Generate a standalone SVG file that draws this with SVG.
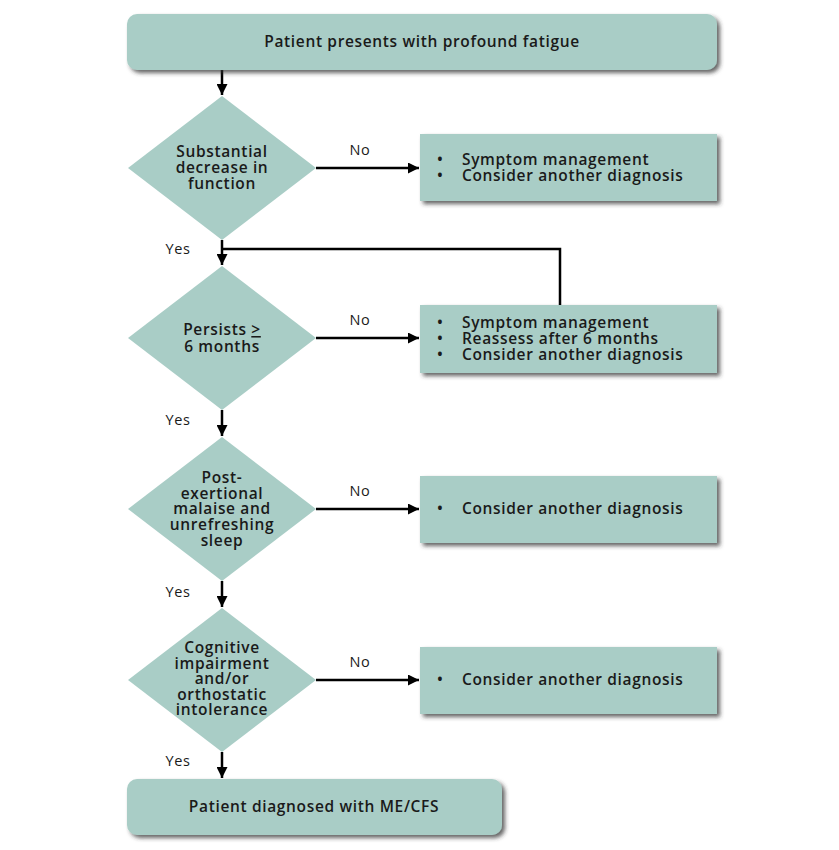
<svg xmlns="http://www.w3.org/2000/svg" width="839" height="850" viewBox="0 0 839 850">
<style>
.box{fill:#a9cdc6;filter:url(#sh)}
.dia{fill:#a9cdc6}
.t{font-family:"Open Sans","Liberation Sans",sans-serif;font-weight:600;font-size:15.5px;letter-spacing:0.65px;fill:#1a1a1a}
.c{text-anchor:middle}
.lbl{font-family:"Open Sans","Liberation Sans",sans-serif;font-size:14.5px;letter-spacing:0.6px;fill:#1a1a1a}
.ln{stroke:#000;stroke-width:2.5;fill:none}
</style>
<defs>
<filter id="sh" x="-5%" y="-20%" width="115%" height="150%">
<feDropShadow dx="3" dy="3" stdDeviation="2" flood-color="#333" flood-opacity="0.75"/>
</filter>
<marker id="ah" viewBox="0 0 10 10" refX="10" refY="5" markerWidth="4.4" markerHeight="4.4" orient="auto" markerUnits="strokeWidth">
<path d="M0,0 L10,5 L0,10 z" fill="#000"/>
</marker>
</defs>
<rect width="839" height="850" fill="#fff"/>

<g id="connectors">
<line class="ln" x1="222" y1="70" x2="222" y2="95" marker-end="url(#ah)"/>
<line class="ln" x1="316" y1="168" x2="419" y2="168" marker-end="url(#ah)"/>
<line class="ln" x1="222" y1="240" x2="222" y2="265" marker-end="url(#ah)"/>
<polyline class="ln" points="560,305 560,249 222,249"/>
<line class="ln" x1="316" y1="338" x2="419" y2="338" marker-end="url(#ah)"/>
<line class="ln" x1="222" y1="410" x2="222" y2="436" marker-end="url(#ah)"/>
<line class="ln" x1="316" y1="509" x2="419" y2="509" marker-end="url(#ah)"/>
<line class="ln" x1="222" y1="581" x2="222" y2="607" marker-end="url(#ah)"/>
<line class="ln" x1="316" y1="680" x2="419" y2="680" marker-end="url(#ah)"/>
<line class="ln" x1="222" y1="752" x2="222" y2="778" marker-end="url(#ah)"/>
<text class="lbl" x="360" y="155" text-anchor="middle">No</text>
<text class="lbl" x="178" y="254" text-anchor="middle">Yes</text>
<text class="lbl" x="360" y="325" text-anchor="middle">No</text>
<text class="lbl" x="178" y="425" text-anchor="middle">Yes</text>
<text class="lbl" x="360" y="496" text-anchor="middle">No</text>
<text class="lbl" x="178" y="597" text-anchor="middle">Yes</text>
<text class="lbl" x="360" y="667" text-anchor="middle">No</text>
<text class="lbl" x="178" y="766" text-anchor="middle">Yes</text>
</g>

<g id="start">
<rect class="box" x="127" y="14" width="590" height="56" rx="10"/>
<text class="t c" x="422" y="47">Patient presents with profound fatigue</text>
</g>

<g id="d1">
<polygon class="dia" points="222,96 316,168 222,240 128,168"/>
<text class="t c" x="222" y="157">Substantial</text>
<text class="t c" x="222" y="173">decrease in</text>
<text class="t c" x="222" y="189">function</text>
</g>
<g id="b1">
<rect class="box" x="420" y="134" width="297" height="67"/>
<text class="t" x="437" y="165">•</text><text class="t" x="462" y="165">Symptom management</text>
<text class="t" x="437" y="181">•</text><text class="t" x="462" y="181">Consider another diagnosis</text>
</g>

<g id="d2">
<polygon class="dia" points="222,266 316,338 222,410 128,338"/>
<text class="t c" x="222" y="335">Persists <tspan text-decoration="underline">&gt;</tspan></text>
<text class="t c" x="222" y="352">6 months</text>
</g>
<g id="b2">
<rect class="box" x="420" y="305" width="297" height="68"/>
<text class="t" x="437" y="328">•</text><text class="t" x="462" y="328">Symptom management</text>
<text class="t" x="437" y="344">•</text><text class="t" x="462" y="344">Reassess after 6 months</text>
<text class="t" x="437" y="360">•</text><text class="t" x="462" y="360">Consider another diagnosis</text>
</g>

<g id="d3">
<polygon class="dia" points="222,437 316,509 222,581 128,509"/>
<text class="t c" x="222" y="483">Post-</text>
<text class="t c" x="222" y="499">exertional</text>
<text class="t c" x="222" y="514">malaise and</text>
<text class="t c" x="222" y="530">unrefreshing</text>
<text class="t c" x="222" y="546">sleep</text>
</g>
<g id="b3">
<rect class="box" x="420" y="476" width="297" height="67"/>
<text class="t" x="437" y="514">•</text><text class="t" x="462" y="514">Consider another diagnosis</text>
</g>

<g id="d4">
<polygon class="dia" points="222,608 316,680 222,752 128,680"/>
<text class="t c" x="222" y="653">Cognitive</text>
<text class="t c" x="222" y="669">impairment</text>
<text class="t c" x="222" y="684">and/or</text>
<text class="t c" x="222" y="700">orthostatic</text>
<text class="t c" x="222" y="715">intolerance</text>
</g>
<g id="b4">
<rect class="box" x="420" y="647" width="297" height="67"/>
<text class="t" x="437" y="685">•</text><text class="t" x="462" y="685">Consider another diagnosis</text>
</g>

<g id="end">
<rect class="box" x="127" y="779" width="375" height="56" rx="10"/>
<text class="t c" x="314" y="812">Patient diagnosed with ME/CFS</text>
</g>
</svg>
